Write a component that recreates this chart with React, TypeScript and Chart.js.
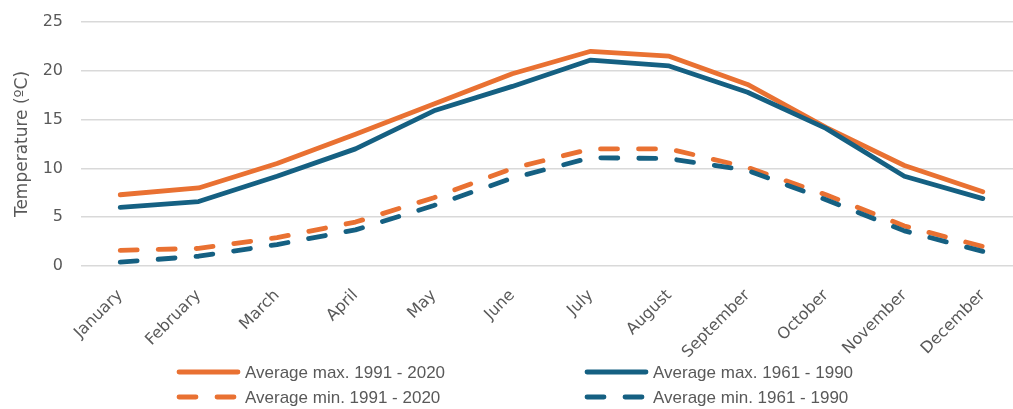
import React, { useEffect, useRef } from "react";
import { Chart, registerables } from "chart.js";

Chart.register(...registerables);

const months = ["January", "February", "March", "April", "May", "June", "July", "August", "September", "October", "November", "December"];
const maxNew = [7.3, 8.0, 10.5, 13.5, 16.6, 19.7, 22.0, 21.5, 18.6, 14.2, 10.3, 7.6];
const maxOld = [6.0, 6.6, 9.2, 12.0, 15.9, 18.4, 21.1, 20.5, 17.8, 14.1, 9.2, 6.9];
const minNew = [1.6, 1.8, 2.9, 4.5, 7.0, 10.0, 12.0, 12.0, 10.1, 7.3, 4.1, 2.0];
const minOld = [0.4, 1.0, 2.2, 3.7, 6.2, 9.0, 11.1, 11.0, 9.8, 6.8, 3.6, 1.5];
const seriesNames = ["Average max. 1991 - 2020", "Average max. 1961 - 1990", "Average min. 1991 - 2020", "Average min. 1961 - 1990"];
const yTitle = "Temperature (ºC)";

const ORANGE = "#E97132";
const BLUE = "#156082";
const TEXT = "#595959";
const DASH = [17, 21];

const legendPlugin = {
  id: "gridLegend",
  afterDraw(chart: any) {
    const ctx = chart.ctx;
    const cols = [177, 585];
    const rows = [372, 397];
    const order = [0, 1, 2, 3];
    ctx.save();
    order.forEach((di, i) => {
      const ds = chart.data.datasets[di];
      const x = cols[i % 2];
      const y = rows[Math.floor(i / 2)];
      ctx.beginPath();
      ctx.strokeStyle = ds.borderColor;
      ctx.lineWidth = ds.borderWidth;
      ctx.lineCap = "round";
      ctx.setLineDash(ds.borderDash || []);
      ctx.moveTo(x + 2, y);
      ctx.lineTo(x + 61, y);
      ctx.stroke();
      ctx.setLineDash([]);
      ctx.fillStyle = TEXT;
      ctx.font = "17px 'Liberation Sans', Arial, sans-serif";
      ctx.textBaseline = "middle";
      ctx.textAlign = "left";
      ctx.fillText(ds.label, x + 68, y + 1);
    });
    ctx.restore();
  },
};

export default function App() {
  const ref = useRef<HTMLCanvasElement>(null);
  useEffect(() => {
    document.body.style.margin = "0";
    const mk = (label: string, data: number[], color: string, dashed: boolean, order: number) => ({
      label,
      data,
      borderColor: color,
      backgroundColor: color,
      borderWidth: 4.8,
      borderDash: dashed ? DASH : [],
      borderCapStyle: "round" as const,
      borderJoinStyle: "round" as const,
      pointRadius: 0,
      pointHoverRadius: 0,
      tension: 0,
      fill: false,
      order,
    });
    const chart = new Chart(ref.current!, {
      type: "line",
      data: {
        labels: months,
        datasets: [
          mk(seriesNames[0], maxNew, ORANGE, false, 1),
          mk(seriesNames[1], maxOld, BLUE, false, 0),
          mk(seriesNames[2], minNew, ORANGE, true, 1),
          mk(seriesNames[3], minOld, BLUE, true, 0),
        ],
      },
      options: {
        animation: false,
        responsive: false,
        maintainAspectRatio: false,
        layout: { padding: { top: 22, right: 0, bottom: 0, left: 0 } },
        plugins: { legend: { display: false }, tooltip: { enabled: false } },
        scales: {
          x: {
            offset: true,
            grid: { display: false, drawTicks: false },
            border: { display: false },
            ticks: {
              minRotation: 45,
              maxRotation: 45,
              autoSkip: false,
              padding: 20,
              color: TEXT,
              font: { family: "'DejaVu Sans', sans-serif", size: 16 },
            },
            afterFit: (s: any) => {
              s.height = 143;
            },
          },
          y: {
            min: 0,
            max: 25,
            ticks: {
              stepSize: 5,
              padding: 18,
              color: TEXT,
              font: { family: "'DejaVu Sans', sans-serif", size: 16 },
            },
            grid: { color: "#D9D9D9", lineWidth: 1.5, drawTicks: false },
            border: { display: false },
            title: {
              display: true,
              text: yTitle,
              color: TEXT,
              padding: { top: 12, bottom: 0 },
              font: { family: "'DejaVu Sans', sans-serif", size: 17, weight: "normal" },
            },
            afterFit: (s: any) => {
              s.width = 81;
              s.paddingTop = 0;
              s.paddingBottom = 0;
            },
          },
        },
      },
      plugins: [legendPlugin],
    });
    return () => chart.destroy();
  }, []);
  return (
    <div style={{ position: "fixed", left: 0, top: 0, width: 1013, height: 409, overflow: "hidden", background: "#fff" }}>
      <canvas ref={ref} width={1022} height={409} style={{ display: "block", width: 1022, height: 409 }} />
    </div>
  );
}
